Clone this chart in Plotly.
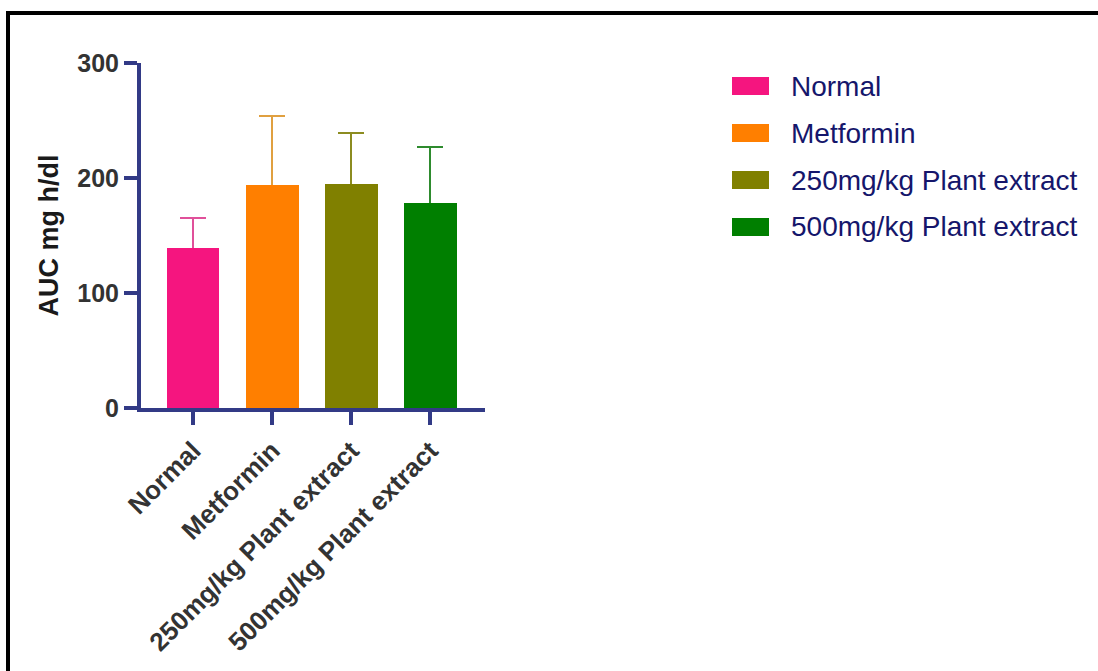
import plotly.graph_objects as go

# ---- data ----
categories = ["Normal", "Metformin", "250mg/kg Plant extract", "500mg/kg Plant extract"]
auc_mean = [139, 194, 195, 178]
auc_sd = [26, 60, 44, 49]
bar_colors = ["#F5157F", "#FF7F00", "#808000", "#007F00"]
err_colors = ["#E0509A", "#E0A040", "#8C8C20", "#2E8B2E"]
y_ticks = [0, 100, 200, 300]

# ---- layout geometry (pixels) ----
W, H = 1098, 671
PL, PR, PT, PB = 141, 485, 63, 408  # plot area edges
AXIS = "#323A86"
FONT = "Arial, Liberation Sans, sans-serif"


def px_x(p):
    return (p - PL) / (PR - PL)


def px_y(p):
    return (PB - p) / (PB - PT)


fig = go.Figure()
# bars carrying the error bars
for i, cat in enumerate(categories):
    fig.add_trace(go.Bar(
        x=[cat], y=[auc_mean[i]], name=cat,
        marker=dict(color=bar_colors[i], line=dict(width=0)),
        width=0.665,
        error_y=dict(type="data", symmetric=True, array=[auc_sd[i]],
                     color=err_colors[i], thickness=2, width=13),
        showlegend=False,
    ))
# same bars drawn again on top so only the upper whisker shows
for i, cat in enumerate(categories):
    fig.add_trace(go.Bar(
        x=[cat], y=[auc_mean[i]], name=cat,
        marker=dict(color=bar_colors[i], line=dict(width=0)),
        width=0.665, showlegend=False, hoverinfo="skip",
    ))

# manual legend (large swatches like the original)
for i, cat in enumerate(categories):
    cy = 86 + 47 * i
    fig.add_shape(type="rect", xref="paper", yref="paper",
                  x0=px_x(732), x1=px_x(769), y0=px_y(cy + 9), y1=px_y(cy - 9),
                  fillcolor=bar_colors[i], line=dict(width=0))
    fig.add_annotation(x=px_x(789), y=px_y(cy), xref="paper", yref="paper",
                       text=cat, showarrow=False, xanchor="left", yanchor="middle",
                       font=dict(family=FONT, size=28, color="#15166B"))

# frame lines (top and left only)
fig.add_shape(type="path", xref="paper", yref="paper",
              path=f"M {px_x(8)} {px_y(H + 5)} L {px_x(8)} {px_y(13)} L {px_x(W + 5)} {px_y(13)}",
              line=dict(color="black", width=4))

fig.update_layout(
    width=W, height=H,
    margin=dict(l=PL, r=W - PR, t=PT, b=H - PB, autoexpand=False),
    paper_bgcolor="white", plot_bgcolor="white",
    barmode="overlay",
    bargap=0,
    font=dict(family=FONT),
)
fig.update_xaxes(
    type="category", range=[-0.66, 3.69],
    showline=True, linecolor=AXIS, linewidth=4,
    ticks="outside", ticklen=13, tickwidth=3.5, tickcolor=AXIS,
    tickangle=-45, showgrid=False, zeroline=False,
    tickfont=dict(family=FONT, size=26, color="#333333", weight="bold"),
)
fig.update_yaxes(
    range=[0, 300], tickvals=y_ticks,
    showline=True, linecolor=AXIS, linewidth=4,
    ticks="outside", ticklen=13, tickwidth=3.5, tickcolor=AXIS,
    showgrid=False, zeroline=False,
    tickfont=dict(family=FONT, size=25, color="#333333", weight="bold"),
    title=dict(text="AUC mg h/dl", standoff=12,
               font=dict(family=FONT, size=27, color="#1A1A1A", weight="bold")),
)

fig.write_html("out.html")
